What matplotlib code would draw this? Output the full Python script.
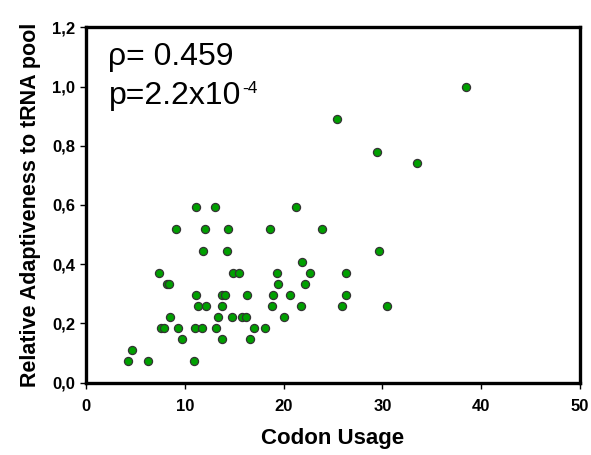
import numpy as np
import matplotlib.pyplot as plt

plt.rcParams['font.family'] = ['Liberation Sans', 'DejaVu Sans']

# codon usage (x) and relative adaptiveness (y, multiples of 1/27)
codon_usage = [4.2, 6.3, 10.9,
               4.6,
               9.7, 13.7, 16.6,
               7.6, 7.9, 9.3, 11.05, 11.75, 13.15, 17.0, 18.1,
               8.5, 13.35, 14.75, 15.8, 16.15, 20.0,
               11.35, 12.1, 13.8, 18.8, 21.8, 25.9, 30.5,
               11.1, 13.7, 14.05, 16.3, 18.9, 20.6, 26.3,
               8.2, 8.35, 19.45, 22.2,
               7.4, 14.85, 15.45, 19.35, 22.7, 26.3,
               21.9,
               11.85, 14.3, 29.7,
               9.05, 12.0, 14.4, 18.6, 23.85,
               11.1, 13.05, 21.25,
               33.5, 29.45, 25.4, 38.5]
rel_adapt_k = [2, 2, 2,
               3,
               4, 4, 4,
               5, 5, 5, 5, 5, 5, 5, 5,
               6, 6, 6, 6, 6, 6,
               7, 7, 7, 7, 7, 7, 7,
               8, 8, 8, 8, 8, 8, 8,
               9, 9, 9, 9,
               10, 10, 10, 10, 10, 10,
               11,
               12, 12, 12,
               14, 14, 14, 14, 14,
               16, 16, 16,
               20, 21, 24, 27]
rel_adapt = np.array(rel_adapt_k) / 27.0

xticks = [0, 10, 20, 30, 40, 50]
yticks = [0.0, 0.2, 0.4, 0.6, 0.8, 1.0, 1.2]

fig = plt.figure(figsize=(5.91, 4.55), dpi=100)
ax = fig.add_axes([0.146, 0.159, 0.835, 0.781])

ax.scatter(codon_usage, rel_adapt, s=34, c='#00a000', edgecolors='#333333',
           linewidths=0.9, zorder=3, clip_on=False)

ax.set_xlim(0, 50)
ax.set_ylim(0, 1.2)
ax.set_xticks(xticks)
ax.set_yticks(yticks)
ax.set_xticklabels([str(t) for t in xticks])
ax.set_yticklabels([('%.1f' % t).replace('.', ',') for t in yticks])
for lab in ax.get_xticklabels() + ax.get_yticklabels():
    lab.set_fontweight('bold')
ax.tick_params(axis='x', length=4, width=1, pad=8, labelsize=12)
ax.tick_params(axis='y', length=4, width=1, pad=4, labelsize=12)
for sp in ax.spines.values():
    sp.set_linewidth(2.4)

ax.set_xlabel('Codon Usage', fontsize=16, fontweight='bold', labelpad=10)
ax.set_ylabel('Relative Adaptiveness to tRNA pool', fontsize=15.5,
              fontweight='bold', labelpad=8)

ax.text(0.045, 0.895, '\u03c1= 0.459', transform=ax.transAxes, fontsize=23,
        ha='left', va='baseline')
t2 = ax.text(0.045, 0.785, 'p=2.2x10', transform=ax.transAxes, fontsize=23,
             ha='left', va='baseline')
# superscript exponent
ax.annotate('-4', xy=(1.0, 1.0), xycoords=t2, xytext=(1, 0),
            textcoords='offset points', fontsize=12.5, ha='left', va='top')

fig.savefig('out.png', dpi=100)
